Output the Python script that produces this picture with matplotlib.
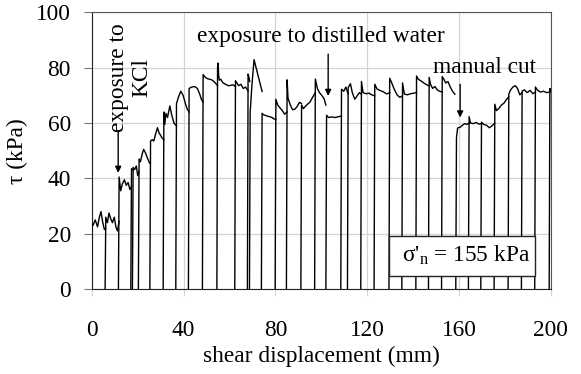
import matplotlib
matplotlib.use('Agg')
import matplotlib.pyplot as plt
import matplotlib.patches as mpatches

# ---------------------------------------------------------------------------
# data: each stroke starts at tau = 0
# ---------------------------------------------------------------------------
stroke_disp = [
    [0.0, 0.5, 1.5, 2.5, 3.3, 4.0, 4.8, 5.5, 6.1],
    [6.1, 6.8, 7.5, 8.2, 9.0, 9.8, 10.5, 11.2, 11.9],
    [11.9, 12.6, 13.3, 14.2, 15.0, 15.8, 16.6, 17.3],
    [17.3, 17.7, 18.0],
    [18.0, 18.7, 19.4, 20.0, 20.6],
    [20.6, 21.2, 22.0, 22.6, 23.5, 24.4, 25.2],
    [25.6, 26.3, 27.0, 27.8, 28.6, 29.3, 30.0, 30.7, 31.4],
    [31.4, 31.8, 32.3, 33.0, 34.0, 34.8, 35.8, 36.9],
    [36.9, 37.8, 38.8, 39.8, 40.8, 41.6, 42.4],
    [42.4, 43.5, 44.8, 46.0, 47.0, 47.8, 48.5],
    [48.5, 49.5, 50.5, 51.5, 52.5, 53.5, 54.3, 54.8],
    [54.8, 55.0, 55.3, 55.6, 56.2, 57.2, 58.3, 59.5, 60.5, 61.5, 62.6],
    [62.6, 63.2, 64.0, 65.0, 66.0, 67.0, 68.1],
    [68.1, 68.5, 68.8],
    [69.0, 69.8, 70.7, 72.5, 74.2],
    [74.2, 74.8, 75.5, 76.5, 77.5, 78.5, 79.4, 80.2],
    [80.2, 81.0, 82.0, 83.0, 84.0, 85.1],
    [85.1, 85.5, 86.5, 87.5, 88.5, 89.5, 90.5, 91.4],
    [91.4, 92.2, 93.0, 94.0, 95.0, 96.0, 97.4],
    [97.4, 98.3, 99.2, 100.2, 101.2, 102.0],
    [102.3, 103.2, 104.5, 106.0, 107.5, 108.8],
    [108.8, 109.8, 110.7, 111.7],
    [111.7, 112.7, 113.5, 114.6, 115.6, 116.6, 117.5],
    [117.5, 118.2, 119.5, 120.8, 122.0, 123.3],
    [123.3, 124.3, 125.5, 127.0, 128.5, 129.8],
    [129.8, 130.6, 131.8, 133.0, 134.2, 135.4],
    [135.4, 136.2, 137.5, 139.0, 140.3, 141.5],
    [141.5, 142.3, 143.5, 144.8, 146.0, 147.0],
    [147.0, 147.6, 148.5, 149.5, 150.5, 151.5, 152.7],
    [152.7, 153.3, 154.2, 155.2, 156.2, 157.2, 158.2],
    [158.9, 159.4, 160.5, 161.5, 162.5, 163.5, 164.4],
    [164.4, 165.0, 166.2, 167.5, 168.7, 169.8],
    [169.8, 170.8, 172.0, 173.2, 174.4, 175.6],
    [175.6, 176.3, 177.3, 178.5, 179.6, 180.7, 181.7],
    [181.7, 182.5, 183.5, 184.5, 185.5, 186.5, 187.5],
    [187.5, 188.5, 189.7, 191.0, 192.2, 193.3],
    [193.3, 194.3, 195.5, 196.8, 198.2, 199.6],
    [199.6, 200.0],
]
stroke_tau = [
    [23.5, 23.0, 25.0, 22.5, 26.0, 28.0, 24.0, 21.5, 22.0],
    [26.0, 24.0, 27.5, 25.5, 24.0, 26.0, 22.5, 21.0, 24.5],
    [40.5, 35.5, 38.0, 39.5, 37.5, 38.5, 36.0, 37.0],
    [43.5, 43.2, 43.0],
    [44.0, 43.2, 44.5, 41.0, 42.5],
    [47.0, 46.0, 49.0, 50.5, 49.0, 47.0, 45.5],
    [53.5, 54.0, 53.5, 56.0, 58.3, 56.5, 55.5, 54.5, 54.0],
    [64.0, 59.5, 63.5, 62.0, 66.2, 63.0, 60.0, 59.0],
    [67.0, 69.5, 71.5, 70.0, 67.0, 65.0, 64.0],
    [72.5, 73.0, 73.2, 72.5, 70.5, 68.5, 67.5],
    [77.5, 76.5, 76.0, 75.8, 75.5, 74.8, 74.0, 73.5],
    [80.0, 81.7, 77.0, 75.5, 75.8, 74.5, 74.0, 73.5, 73.6, 73.8, 73.2],
    [75.3, 74.5, 73.5, 74.0, 72.5, 73.0, 71.6],
    [77.7, 76.5, 75.0],
    [63.8, 74.0, 82.9, 77.0, 71.4],
    [63.5, 63.0, 62.8, 62.5, 62.3, 62.0, 61.5, 61.3],
    [68.6, 66.5, 65.5, 64.5, 63.2, 64.0],
    [75.6, 69.0, 66.5, 64.8, 65.0, 66.0, 67.5, 67.0],
    [66.5, 65.2, 66.0, 66.8, 67.5, 69.0, 71.0],
    [75.9, 72.5, 71.0, 70.0, 68.8, 66.5],
    [62.8, 62.0, 62.2, 62.0, 62.3, 62.5],
    [72.2, 71.5, 73.0, 70.5],
    [72.8, 74.2, 71.0, 68.6, 69.8, 71.0, 70.4],
    [75.0, 71.0, 70.6, 70.8, 70.2, 69.8],
    [74.0, 72.3, 71.8, 71.3, 70.5, 71.0],
    [76.2, 74.7, 72.2, 70.2, 69.3, 69.8],
    [74.5, 70.5, 70.2, 70.6, 70.8, 71.0],
    [77.0, 75.8, 75.2, 74.4, 73.8, 73.4],
    [76.5, 74.0, 72.5, 73.2, 72.0, 71.5, 71.2],
    [76.8, 76.0, 74.5, 75.0, 73.0, 71.5, 70.4],
    [54.7, 58.2, 58.5, 59.2, 59.8, 59.5, 60.0],
    [62.3, 60.0, 59.8, 60.2, 59.6, 59.8],
    [60.3, 59.5, 59.2, 58.3, 59.0, 60.0],
    [66.8, 64.5, 65.2, 66.5, 67.2, 68.5, 69.5],
    [70.4, 72.0, 73.0, 73.5, 72.5, 70.2, 71.0],
    [71.5, 72.0, 71.0, 71.8, 70.6, 71.2],
    [73.0, 71.8, 71.2, 71.5, 71.0, 71.2],
    [72.5, 71.5],
]

x_ticks = [0, 40, 80, 120, 160, 200]
y_ticks = [0, 20, 40, 60, 80, 100]

plt.rcParams.update({
    'font.family': ['Liberation Serif', 'DejaVu Serif'],
    'font.size': 16.8,
    'mathtext.fontset': 'custom',
    'mathtext.rm': 'Liberation Serif',
    'mathtext.it': 'Liberation Serif:italic',
})

fig = plt.figure(figsize=(5.81, 3.74), dpi=100)
ax = fig.add_axes([0.158, 0.227, 0.79, 0.74])

# strokes: rise from zero, then the measured trace
for xs, ts in zip(stroke_disp, stroke_tau):
    ax.plot([xs[0] - 0.3] + xs, [0] + ts, color='black', lw=1.0, zorder=3)

ax.set_xlim(0, 200)
ax.set_ylim(0, 100)
ax.set_xticks(x_ticks)
ax.set_yticks(y_ticks)
ax.grid(True, color='#d4d4d4', lw=0.9)
ax.set_axisbelow(True)

ax.tick_params(axis='y', direction='out', length=6, color='#777777', pad=9)
ax.tick_params(axis='x', direction='out', length=5, color='#d4d4d4', pad=17)
for side in ['left', 'bottom']:
    ax.spines[side].set_color('#222222')
for side in ['top', 'right']:
    ax.spines[side].set_color('#555555')

ax.set_xlabel('shear displacement (mm)', labelpad=4)
ax.set_ylabel('τ (kPa)', labelpad=6)

# annotations
arrow = dict(arrowstyle='-|>', color='black', lw=1.0, mutation_scale=9,
             shrinkA=0, shrinkB=0)
ax.text(16.7, 76.5, 'exposure to\nKCl', rotation=90, ha='center',
        va='center', multialignment='center', linespacing=1.1, zorder=5)
ax.annotate('', xy=(11.5, 42), xytext=(11.5, 56.6), arrowprops=arrow, zorder=5)

ax.text(100, 91.1, 'exposure to distilled water', ha='center', va='center',
        zorder=5)
ax.annotate('', xy=(103, 69.8), xytext=(103, 84.9), arrowprops=arrow, zorder=5)

ax.text(171.1, 80.2, 'manual cut', ha='center', va='center', zorder=5)
ax.annotate('', xy=(160.5, 62), xytext=(160.5, 74), arrowprops=arrow, zorder=5)

# normal stress box
box = mpatches.Rectangle((0.648, 0.047), 0.317, 0.145, transform=ax.transAxes,
                         facecolor='white', edgecolor='#222222', lw=1.0,
                         zorder=6)
ax.add_patch(box)
ax.text(0.815, 0.123, "σ'$_\\mathrm{n}$ = 155 kPa", transform=ax.transAxes,
        ha='center', va='center', zorder=7)

fig.savefig('out.png', dpi=100, facecolor='white')
